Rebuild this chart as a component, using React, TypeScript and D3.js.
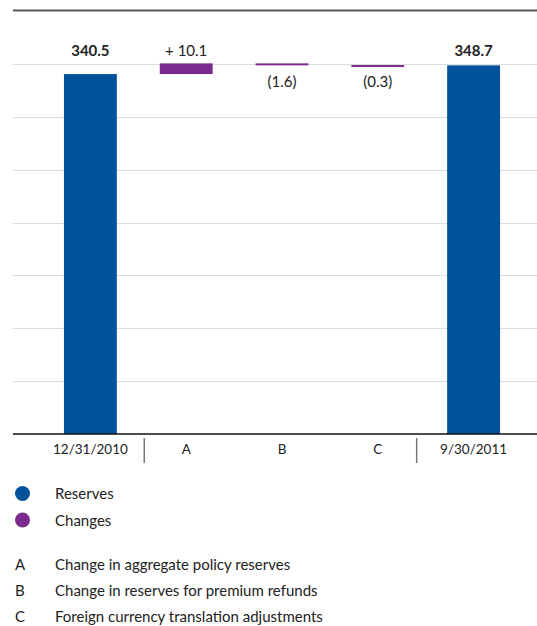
import React from 'react';
import * as d3 from 'd3';

// chart values
const categories = ['12/31/2010', 'A', 'B', 'C', '9/30/2011'];
const kinds = ['total', 'change', 'change', 'change', 'total'];
const values = [340.5, 10.1, -1.6, -0.3, 348.7];
const valueLabels = ['340.5', '+ 10.1', '(1.6)', '(0.3)', '348.7'];
const gridTicks = [0, 50, 100, 150, 200, 250, 300, 350];

const legendSeries = ['Reserves', 'Changes'];
const legendKeys = ['A', 'B', 'C'];
const legendDescriptions = [
  'Change in aggregate policy reserves',
  'Change in reserves for premium refunds',
  'Foreign currency translation adjustments',
];

const BLUE = '#00529b';
const PURPLE = '#7b2a8e';
const TEXT = '#222';
const FONT = 'Lato, sans-serif';

function App() {
  const width = 537;
  const height = 626;
  const left = 13;

  const x = d3.scaleBand()
    .domain(categories)
    .range([42.5, 521.5])
    .paddingInner(0.448)
    .paddingOuter(0.224);

  const y = d3.scaleLinear()
    .domain([0, 350])
    .range([434, 64]);

  // waterfall: running total for the floating bars
  let running = 0;
  const bars = categories.map((c, i) => {
    let y0, y1;
    if (kinds[i] === 'total') {
      running = values[i];
      y0 = 0;
      y1 = values[i];
    } else {
      y0 = running;
      running = running + values[i];
      y1 = running;
    }
    const top = Math.min(y(y0), y(y1));
    const h = Math.max(Math.abs(y(y0) - y(y1)), 2);
    return { c, i, top, h, neg: values[i] < 0 };
  });

  const colorScale = d3.scaleOrdinal<string, string>().domain(legendSeries).range([BLUE, PURPLE]);

  return (
    <svg width={width} height={height} style={{ position: 'absolute', left: 0, top: 0 }} fontFamily={FONT}>
      {/* top rule */}
      <line x1={left} x2={width} y1={10.5} y2={10.5} stroke="#555" strokeWidth={2} />

      {/* grid */}
      {gridTicks.slice(1).map(t => (
        <line key={t} x1={left} x2={width} y1={Math.round(y(t)) + 0.5} y2={Math.round(y(t)) + 0.5} stroke="#dcdcdc" strokeWidth={1} />
      ))}

      {/* bars */}
      {bars.map(b => (
        <rect key={b.c} x={x(b.c)} y={b.top} width={x.bandwidth()} height={b.h}
          fill={kinds[b.i] === 'total' ? BLUE : PURPLE} />
      ))}

      {/* baseline */}
      <line x1={left} x2={width} y1={y(0)} y2={y(0)} stroke="#111" strokeWidth={1.3} />

      {/* value labels */}
      {bars.map(b => (
        <text key={b.c} x={x(b.c)! + x.bandwidth() / 2} y={b.neg ? y(350) + 23 : y(350) - 8}
          textAnchor="middle" fontSize={15} fill={TEXT}
          fontWeight={kinds[b.i] === 'total' ? 700 : 400}>
          {valueLabels[b.i]}
        </text>
      ))}

      {/* category labels */}
      {categories.map(c => (
        <text key={c} x={x(c)! + x.bandwidth() / 2} y={454} textAnchor="middle" fontSize={13.5} fill={TEXT}>{c}</text>
      ))}
      <line x1={x('A')! - 15.5} x2={x('A')! - 15.5} y1={438} y2={463} stroke="#777" strokeWidth={1.5} />
      <line x1={x('9/30/2011')! - 30.5} x2={x('9/30/2011')! - 30.5} y1={438} y2={463} stroke="#777" strokeWidth={1.5} />

      {/* legend */}
      {legendSeries.map((s, i) => (
        <g key={s} transform={`translate(0, ${493.5 + i * 26.5})`}>
          <circle cx={22.5} cy={0} r={7.5} fill={colorScale(s)} />
          <text x={55} y={5.5} fontSize={15} fill={TEXT}>{s}</text>
        </g>
      ))}
      {legendKeys.map((k, i) => (
        <g key={k} transform={`translate(0, ${570 + i * 26})`}>
          <text x={15} y={0} fontSize={15} fill={TEXT}>{k}</text>
          <text x={55} y={0} fontSize={15} fill={TEXT}>{legendDescriptions[i]}</text>
        </g>
      ))}
    </svg>
  );
}

export default App;
